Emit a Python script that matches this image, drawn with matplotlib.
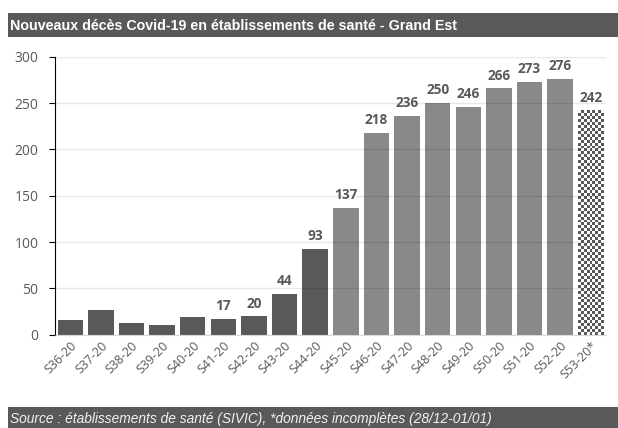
import numpy as np
import matplotlib.pyplot as plt
from matplotlib.patches import Rectangle

weeks = ['S36-20', 'S37-20', 'S38-20', 'S39-20', 'S40-20', 'S41-20', 'S42-20', 'S43-20', 'S44-20',
         'S45-20', 'S46-20', 'S47-20', 'S48-20', 'S49-20', 'S50-20', 'S51-20', 'S52-20', 'S53-20*']
deaths = [16, 27, 13, 10, 19, 17, 20, 44, 93, 137, 218, 236, 250, 246, 266, 273, 276, 242]
first_labelled = 5   # values shown from S41-20 on
n_dark = 9           # S36..S44 dark, then lighter, last one incomplete

dark = '#595959'
light = '#898989'

fig = plt.figure(figsize=(6.18, 4.28), dpi=100)

# title and footer bands
fig.patches.append(Rectangle((8/618, 1-37/428), 1, 24/428, transform=fig.transFigure,
                             facecolor=dark, edgecolor='none', zorder=0))
fig.text(10/618, 1-26/428, 'Nouveaux décès Covid-19 en établissements de santé - Grand Est',
         color='white', fontsize=10.3, fontweight='bold', family='Liberation Sans', va='center')
fig.patches.append(Rectangle((8/618, 0), 1, 21/428, transform=fig.transFigure,
                             facecolor=dark, edgecolor='none', zorder=0))
fig.text(10/618, 9/428, 'Source : établissements de santé (SIVIC), *données incomplètes (28/12-01/01)',
         color='#f2f2f2', fontsize=9.9, style='italic', family='Liberation Sans', va='center')

ax = fig.add_axes([55/618, 1-334.7/428, 551/618, 278/428])
x = np.arange(len(weeks))
colors = [dark]*n_dark + [light]*(len(weeks)-n_dark-1) + ['white']
bars = ax.bar(x, deaths, width=0.83, color=colors, zorder=2)

# checkered last bar
last = bars[-1]
cb = np.indices((76, 9)).sum(axis=0) % 2
bx, bw, bh = last.get_x(), last.get_width(), last.get_height()
im = ax.imshow(cb, cmap=plt.matplotlib.colors.ListedColormap(['white', dark]),
               extent=[bx, bx+bw, 0, bh], aspect='auto', interpolation='nearest', zorder=2)
im.set_clip_path(last)

for i in range(first_labelled, len(weeks)):
    ax.text(x[i], deaths[i] + 6, str(deaths[i]), ha='center', va='bottom',
            fontsize=9.8, fontweight='bold', color=dark, family='Open Sans')

ax.set_xlim(-0.5, len(weeks) - 0.5)
ax.set_ylim(0, 300)
ax.set_yticks(range(0, 301, 50))
ax.grid(axis='y', color='black', alpha=0.09, linewidth=1, zorder=3)
ax.set_axisbelow(False)
ax.set_xticks(x)
ax.set_xticklabels(weeks, rotation=45, ha='right', rotation_mode='anchor',
                   fontsize=9, color=dark, family='Open Sans')
for lab in ax.get_yticklabels():
    lab.set_family('Open Sans')
ax.tick_params(axis='y', labelsize=10, labelcolor=dark, length=4, color='black', pad=8)
ax.tick_params(axis='x', length=0, pad=3)
for s in ['top', 'right']:
    ax.spines[s].set_visible(False)
ax.spines['left'].set_color('black')
ax.spines['bottom'].set_color('#d9d9d9')

fig.savefig('out.png', dpi=100)
